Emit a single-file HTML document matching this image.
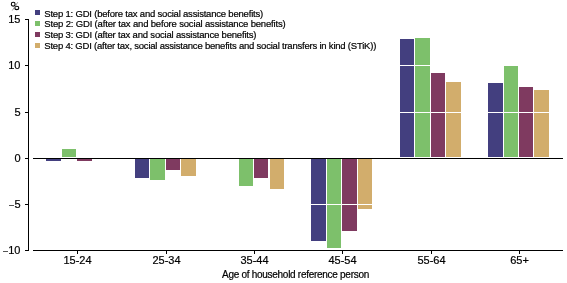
<!DOCTYPE html>
<html><head><meta charset="utf-8"><style>
html,body{margin:0;padding:0;background:#fff;}
svg{display:block;will-change:transform;}
text{font-family:"Liberation Sans",sans-serif;fill:#000;stroke:#000;stroke-width:0.2px;}
.ax{font-size:11px;}
.lg{font-size:9.5px;letter-spacing:-0.2px;}
.tt{font-size:10px;letter-spacing:-0.28px;}
</style></head><body>
<svg width="567" height="283" viewBox="0 0 567 283">
<rect x="0" y="0" width="567" height="283" fill="#fff"/>
<g shape-rendering="crispEdges">
<rect x="46" y="159" width="15" height="2" fill="#433f7f"/><rect x="62" y="149" width="14" height="8" fill="#7dc06b"/><rect x="77" y="159" width="15" height="2" fill="#7f3a60"/><rect x="135" y="159" width="14" height="19" fill="#433f7f"/><rect x="150" y="159" width="15" height="21" fill="#7dc06b"/><rect x="166" y="159" width="14" height="11" fill="#7f3a60"/><rect x="181" y="159" width="15" height="17" fill="#d2ad6c"/><rect x="239" y="159" width="14" height="27" fill="#7dc06b"/><rect x="254" y="159" width="14" height="19" fill="#7f3a60"/><rect x="270" y="159" width="14" height="30" fill="#d2ad6c"/><rect x="311" y="159" width="15" height="82" fill="#433f7f"/><rect x="327" y="159" width="14" height="89" fill="#7dc06b"/><rect x="342" y="159" width="15" height="72" fill="#7f3a60"/><rect x="358" y="159" width="14" height="50" fill="#d2ad6c"/><rect x="400" y="39" width="14" height="118" fill="#433f7f"/><rect x="415" y="38" width="15" height="119" fill="#7dc06b"/><rect x="431" y="73" width="14" height="84" fill="#7f3a60"/><rect x="446" y="82" width="15" height="75" fill="#d2ad6c"/><rect x="488" y="83" width="15" height="74" fill="#433f7f"/><rect x="504" y="66" width="14" height="91" fill="#7dc06b"/><rect x="519" y="87" width="14" height="70" fill="#7f3a60"/><rect x="534" y="90" width="15" height="67" fill="#d2ad6c"/>
<rect x="33" y="65" width="530" height="1" fill="#fff"/><rect x="33" y="112" width="530" height="1" fill="#fff"/><rect x="33" y="204" width="530" height="1" fill="#fff"/>
<rect x="28" y="19" width="1" height="232" fill="#000"/>
<rect x="25" y="19" width="4" height="1" fill="#000"/><rect x="25" y="65" width="4" height="1" fill="#000"/><rect x="25" y="112" width="4" height="1" fill="#000"/><rect x="25" y="158" width="4" height="1" fill="#000"/><rect x="25" y="204" width="4" height="1" fill="#000"/><rect x="25" y="250" width="4" height="1" fill="#000"/>
<rect x="33" y="158" width="530" height="1" fill="#000"/>
<rect x="33" y="250" width="530" height="1" fill="#000"/>
<rect x="77" y="250" width="1" height="4" fill="#000"/><rect x="166" y="250" width="1" height="4" fill="#000"/><rect x="254" y="250" width="1" height="4" fill="#000"/><rect x="342" y="250" width="1" height="4" fill="#000"/><rect x="431" y="250" width="1" height="4" fill="#000"/><rect x="519" y="250" width="1" height="4" fill="#000"/>
<rect x="35" y="10" width="5" height="5" fill="#433f7f"/><text x="44.3" y="17" class="lg" style="letter-spacing:-0.2px">Step 1: GDI (before tax and social assistance benefits)</text><rect x="35" y="21" width="5" height="5" fill="#7dc06b"/><text x="44.3" y="27" class="lg" style="letter-spacing:-0.165px">Step 2: GDI (after tax and before social assistance benefits)</text><rect x="35" y="32" width="5" height="5" fill="#7f3a60"/><text x="44.3" y="38" class="lg" style="letter-spacing:-0.18px">Step 3: GDI (after tax and social assistance benefits)</text><rect x="35" y="43" width="5" height="5" fill="#d2ad6c"/><text x="44.3" y="49" class="lg" style="letter-spacing:-0.212px">Step 4: GDI (after tax, social assistance benefits and social transfers in kind (STiK))</text>
</g>
<g fill="none" stroke="#000" stroke-width="1.1"><ellipse cx="13.2" cy="4.2" rx="1.9" ry="1.9"/><ellipse cx="16.8" cy="7.9" rx="2.0" ry="1.7"/></g>
<line x1="17.8" y1="2.2" x2="12.3" y2="10.5" stroke="#888" stroke-width="0.9"/>
<g shape-rendering="crispEdges"><rect x="3" y="251" width="5" height="1" fill="#555"/><rect x="9" y="205" width="5" height="1" fill="#555"/></g>
<text x="20.5" y="23" text-anchor="end" class="ax">15</text><text x="20.5" y="69" text-anchor="end" class="ax">10</text><text x="20.5" y="116" text-anchor="end" class="ax">5</text><text x="20.5" y="162" text-anchor="end" class="ax">0</text><text x="20.5" y="208" text-anchor="end" class="ax">5</text><text x="20.5" y="254" text-anchor="end" class="ax">10</text>
<text x="77.5" y="264" text-anchor="middle" class="ax">15-24</text><text x="166.5" y="264" text-anchor="middle" class="ax">25-34</text><text x="254.5" y="264" text-anchor="middle" class="ax">35-44</text><text x="342.5" y="264" text-anchor="middle" class="ax">45-54</text><text x="431.5" y="264" text-anchor="middle" class="ax">55-64</text><text x="519.5" y="264" text-anchor="middle" class="ax">65+</text>
<text x="295.5" y="277.5" text-anchor="middle" class="tt">Age of household reference person</text>
</svg>
</body></html>
